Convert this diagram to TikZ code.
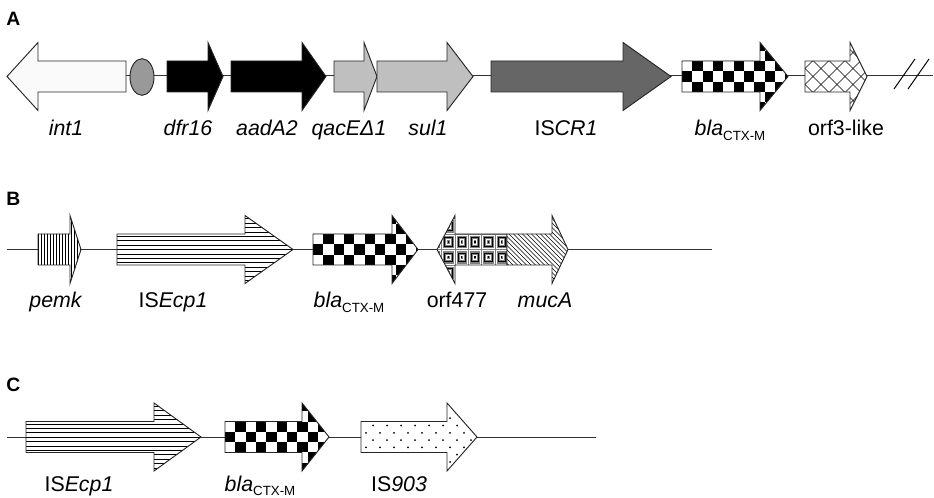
\documentclass[tikz,border=0pt]{standalone}
\usepackage{fontspec}
\setmainfont{Liberation Sans}
\usetikzlibrary{shapes.geometric}

% gene arrow outline: body start, head base, tip, centre line
\newcommand{\genepath}[4]{({#1},{#4-15.5}) -- ({#2},{#4-15.5}) -- ({#2},{#4-34}) -- ({#3},{#4}) -- ({#2},{#4+34}) -- ({#2},{#4+15.5}) -- ({#1},{#4+15.5}) -- cycle}
% fills, drawn inside a clip
\newcommand{\checkfill}[2]{%
  \foreach \i in {0,...,10}{\foreach \j in {-2,...,4}{%
    \pgfmathtruncatemacro{\chk}{mod(\i+\j+4,2)}%
    \ifnum\chk=1 \fill[black] ({#1+\i*10.33},{#2-15.5+\j*10.33}) rectangle ++(10.33,10.33);\fi}}}
\newcommand{\hstripefill}[3]{%
  \foreach \k in {-8,...,8} \draw[hatch] ({#1},{#3+(\k)*4.4}) -- ({#2},{#3+(\k)*4.4});}
\newcommand{\vstripefill}[2]{%
  \foreach \k in {0,...,16} \draw[hatch] ({#1+\k*3},{#2-40}) -- ++(0,80);}
\newcommand{\diagstripefill}[2]{%
  \foreach \k in {-22,...,22} \draw[hatch] ({#1+\k*4.5},{#2-40}) -- ++(80,80);}
\newcommand{\crossstripefill}[2]{%
  \foreach \k in {-7,...,7}{\draw[hatch] ({#1+\k*16},{#2-40}) -- ++(80,80);
    \draw[hatch] ({#1+\k*16},{#2+40}) -- ++(80,-80);}}
\newcommand{\speckfill}[2]{%
  \foreach \r in {-3,...,6}{\foreach \c in {0,...,9}{%
    \pgfmathtruncatemacro{\oddrow}{mod(\r+10,2)}%
    \fill ({#1+5+7*(1-\oddrow)+\c*14},{#2-11.5+(\r)*7.3}) circle[radius=1];}}}
\newcommand{\squarefill}[2]{%
  \foreach \i in {-2,...,4}{\foreach \j in {-2,...,2}{%
    \begin{scope}[shift={({#1+\i*13.3},{#2-15.5+\j*15.5})}]
      \fill[black!50] (0,0) rectangle (13.3,15.5);
      \draw[white, hatch] (1,1) rectangle (12.3,14.5);
      \draw[black, hatch] (3,3.5) rectangle (10.3,12);
      \draw[white, hatch] (5,5.5) rectangle (8.3,10);
      \fill[black] (6,6.8) rectangle (7.3,8.7);
    \end{scope}}}}
\newcommand{\blactx}{\textit{bla}\raisebox{-3.7pt}{\fontsize{10}{12}\selectfont CTX-M}}

\begin{document}
\begin{tikzpicture}[x=0.75pt, y=-0.75pt,
    gene/.style={draw=black!85, line width=0.7pt},
    hatch/.style={line width=0.45pt},
    backbone/.style={draw=black!80, line width=0.75pt},
    lbl/.style={anchor=base, font=\fontsize{16}{19}\selectfont},
    panel/.style={anchor=base west, inner sep=0pt, font=\fontsize{14.5}{17}\selectfont\bfseries}
]
    \useasboundingbox (0,0) rectangle (934,498);

    % Panel A
    \node[panel] (pA) at (6,26) {A};
    \coordinate (A-start) at (7,75.5);
    \coordinate (A-end) at (933,75.5);
    \draw[backbone] (A-start) -- (A-end);
    \draw[gene, fill=black!2] \genepath{126}{38}{7}{76.5};
    \node[draw=black!85, line width=0.7pt, fill=black!40, ellipse, inner sep=0pt,
        minimum width=18pt, minimum height=27.5pt] (att) at (142,77) {};
    \draw[gene, fill=black] \genepath{167}{208}{223}{76.5};
    \draw[gene, fill=black] \genepath{231}{302}{326}{76.5};
    \draw[gene, fill=black!25] \genepath{334}{364}{377}{76.5};
    \draw[gene, fill=black!25] \genepath{377}{447}{473}{76.5};
    \draw[gene, fill=black!60] \genepath{491}{623}{671}{76.5};
    \begin{scope}
        \clip \genepath{682}{760}{788}{76.5};
        \fill[white] (670,30) rectangle (800,120);
        \checkfill{682}{76.5}
    \end{scope}
    \draw[gene] \genepath{682}{760}{788}{76.5};
    \begin{scope}
        \clip \genepath{805}{850}{867}{76.5};
        \fill[white] (800,30) rectangle (880,120);
        \crossstripefill{805}{76.5}
    \end{scope}
    \draw[gene] \genepath{805}{850}{867}{76.5};
    % break marks
    \draw[line width=0.75pt] (894,89) -- (915,59);
    \draw[line width=0.75pt] (908,89) -- (929,59);

    \node[lbl] (int1) at (66,136) {\textit{int1}};
    \node[lbl] (dfr16) at (188,136) {\textit{dfr16}};
    \node[lbl] (aadA2) at (267,136) {\textit{aadA2}};
    \node[lbl] (qacE) at (349,136) {\textit{qacEΔ1}};
    \node[lbl] (sul1) at (428,136) {\textit{sul1}};
    \node[lbl] (iscr1) at (566,136) {IS\textit{CR1}};
    \node[lbl] (blaA) at (730,136) {\blactx};
    \node[lbl] (orf3) at (846,136) {orf3-like};

    % Panel B
    \node[panel] (pB) at (6,206) {B};
    \coordinate (B-start) at (7,249.5);
    \coordinate (B-end) at (712,249.5);
    \draw[backbone] (B-start) -- (B-end);
    \begin{scope}
        \clip \genepath{38}{70}{81}{249.5};
        \fill[white] (30,200) rectangle (90,300);
        \vstripefill{38}{249.5}
    \end{scope}
    \draw[gene] \genepath{38}{70}{81}{249.5};
    \begin{scope}
        \clip \genepath{117}{245}{293}{249.5};
        \fill[white] (110,200) rectangle (300,300);
        \hstripefill{110}{300}{249.5}
    \end{scope}
    \draw[gene] \genepath{117}{245}{293}{249.5};
    \begin{scope}
        \clip \genepath{313}{392}{418}{249.5};
        \fill[white] (300,200) rectangle (430,300);
        \checkfill{313}{249.5}
    \end{scope}
    \draw[gene] \genepath{313}{392}{418}{249.5};
    \begin{scope}
        \clip \genepath{507}{455}{437}{249.5};
        \squarefill{455}{249.5}
    \end{scope}
    \draw[gene] \genepath{507}{455}{437}{249.5};
    \begin{scope}
        \clip \genepath{507}{552}{568}{249.5};
        \fill[white] (500,200) rectangle (580,300);
        \diagstripefill{507}{249.5}
    \end{scope}
    \draw[gene] \genepath{507}{552}{568}{249.5};

    \node[lbl] (pemk) at (56,308) {\textit{pemk}};
    \node[lbl] (isecpB) at (173,308) {IS\textit{Ecp1}};
    \node[lbl] (blaB) at (349,308) {\blactx};
    \node[lbl] (orf477) at (457,308) {orf477};
    \node[lbl] (mucA) at (545,308) {\textit{mucA}};

    % Panel C
    \node[panel] (pC) at (6,392) {C};
    \coordinate (C-start) at (7,437);
    \coordinate (C-end) at (596,437);
    \draw[backbone] (C-start) -- (C-end);
    \begin{scope}
        \clip \genepath{26}{154}{201}{437};
        \fill[white] (20,390) rectangle (210,490);
        \hstripefill{20}{210}{437}
    \end{scope}
    \draw[gene] \genepath{26}{154}{201}{437};
    \begin{scope}
        \clip \genepath{225}{302}{329}{437};
        \fill[white] (215,390) rectangle (340,490);
        \checkfill{225}{437}
    \end{scope}
    \draw[gene] \genepath{225}{302}{329}{437};
    \begin{scope}
        \clip \genepath{361}{447}{477}{437};
        \fill[white] (350,390) rectangle (490,490);
        \speckfill{361}{437}
    \end{scope}
    \draw[gene] \genepath{361}{447}{477}{437};

    \node[lbl] (isecpC) at (79,491) {IS\textit{Ecp1}};
    \node[lbl] (blaC) at (260,491) {\blactx};
    \node[lbl] (is903) at (399,491) {IS\textit{903}};
\end{tikzpicture}
\end{document}
